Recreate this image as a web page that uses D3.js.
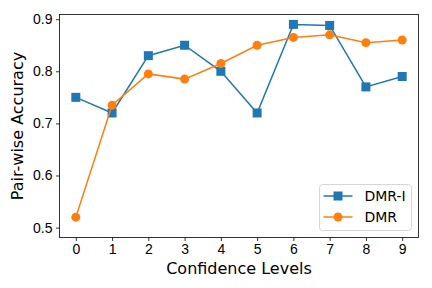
<!DOCTYPE html>
<html>
<head>
<meta charset="utf-8">
<script src="https://cdn.jsdelivr.net/npm/d3@7"></script>
<style>
  body { margin: 0; background: #fff; }
  svg { display: block; font-family: "DejaVu Sans", sans-serif; }
</style>
</head>
<body>
<div id="chart"></div>
<script>
// Data
const levels = [0, 1, 2, 3, 4, 5, 6, 7, 8, 9];
const dmrI = [0.75, 0.72, 0.83, 0.85, 0.80, 0.72, 0.89, 0.888, 0.77, 0.79];
const dmr = [0.52, 0.735, 0.795, 0.785, 0.815, 0.85, 0.865, 0.87, 0.855, 0.86];
const yTicks = [0.5, 0.6, 0.7, 0.8, 0.9];

const width = 432, height = 288;
const margin = { top: 14.5, right: 13.5, bottom: 50.5, left: 59.5 };

const svg = d3.select("#chart").append("svg")
  .attr("width", width)
  .attr("height", height);

const x = d3.scaleLinear()
  .domain([-0.45, 9.45])
  .range([margin.left, width - margin.right]);

const y = d3.scaleLinear()
  .domain([0.481, 0.909])
  .range([height - margin.bottom, margin.top]);

const series = [
  { name: "DMR-I", values: dmrI, color: "#1f77b4", marker: "square" },
  { name: "DMR", values: dmr, color: "#ff7f0e", marker: "circle" }
];

const line = d3.line()
  .x((d, i) => x(levels[i]))
  .y(d => y(d));

// lines + markers
series.forEach(s => {
  svg.append("path")
    .datum(s.values)
    .attr("fill", "none")
    .attr("stroke", s.color)
    .attr("stroke-width", 1.5)
    .attr("d", line);

  if (s.marker === "square") {
    svg.selectAll(null)
      .data(s.values)
      .join("rect")
      .attr("x", (d, i) => x(levels[i]) - 4.5)
      .attr("y", d => y(d) - 4.5)
      .attr("width", 9)
      .attr("height", 9)
      .attr("fill", s.color);
  } else {
    svg.selectAll(null)
      .data(s.values)
      .join("circle")
      .attr("cx", (d, i) => x(levels[i]))
      .attr("cy", d => y(d))
      .attr("r", 4.5)
      .attr("fill", s.color);
  }
});

// axes
const xAxis = svg.append("g")
  .attr("transform", `translate(0,${height - margin.bottom})`)
  .call(d3.axisBottom(x).tickValues(levels).tickFormat(d3.format("d")).tickSize(3.5).tickPadding(3.5).tickSizeOuter(0));

const yAxis = svg.append("g")
  .attr("transform", `translate(${margin.left},0)`)
  .call(d3.axisLeft(y).tickValues(yTicks).tickFormat(d3.format(".1f")).tickSize(3.5).tickPadding(3.5).tickSizeOuter(0));

[xAxis, yAxis].forEach(a => {
  a.selectAll("text").style("font-size", "14px").attr("fill", "#000");
  a.selectAll("line").attr("stroke", "#000").attr("stroke-width", 0.8);
  a.select(".domain").remove();
});

// frame
svg.append("rect")
  .attr("x", margin.left)
  .attr("y", margin.top)
  .attr("width", width - margin.left - margin.right)
  .attr("height", height - margin.top - margin.bottom)
  .attr("fill", "none")
  .attr("stroke", "#000")
  .attr("stroke-width", 0.8);

// axis labels
svg.append("text")
  .attr("x", (margin.left + width - margin.right) / 2)
  .attr("y", 274)
  .attr("text-anchor", "middle")
  .style("font-size", "16px")
  .text("Confidence Levels");

svg.append("text")
  .attr("transform", `translate(23,${(margin.top + height - margin.bottom) / 2}) rotate(-90)`)
  .attr("text-anchor", "middle")
  .style("font-size", "16px")
  .text("Pair-wise Accuracy");

// legend
const legend = svg.append("g").attr("transform", "translate(319.5,184.5)");
legend.append("rect")
  .attr("width", 92)
  .attr("height", 46)
  .attr("rx", 3)
  .attr("fill", "#fff")
  .attr("fill-opacity", 0.8)
  .attr("stroke", "#cccccc")
  .attr("stroke-width", 0.8);

series.forEach((s, i) => {
  const row = legend.append("g").attr("transform", `translate(0,${11.5 + i * 21})`);
  row.append("line")
    .attr("x1", 4).attr("x2", 33)
    .attr("stroke", s.color).attr("stroke-width", 1.5);
  if (s.marker === "square") {
    row.append("rect").attr("x", 14).attr("y", -4.5).attr("width", 9).attr("height", 9).attr("fill", s.color);
  } else {
    row.append("circle").attr("cx", 18.5).attr("r", 4.5).attr("fill", s.color);
  }
  row.append("text")
    .attr("x", 45)
    .attr("dy", "0.35em")
    .style("font-size", "14px")
    .text(s.name);
});
</script>
</body>
</html>
